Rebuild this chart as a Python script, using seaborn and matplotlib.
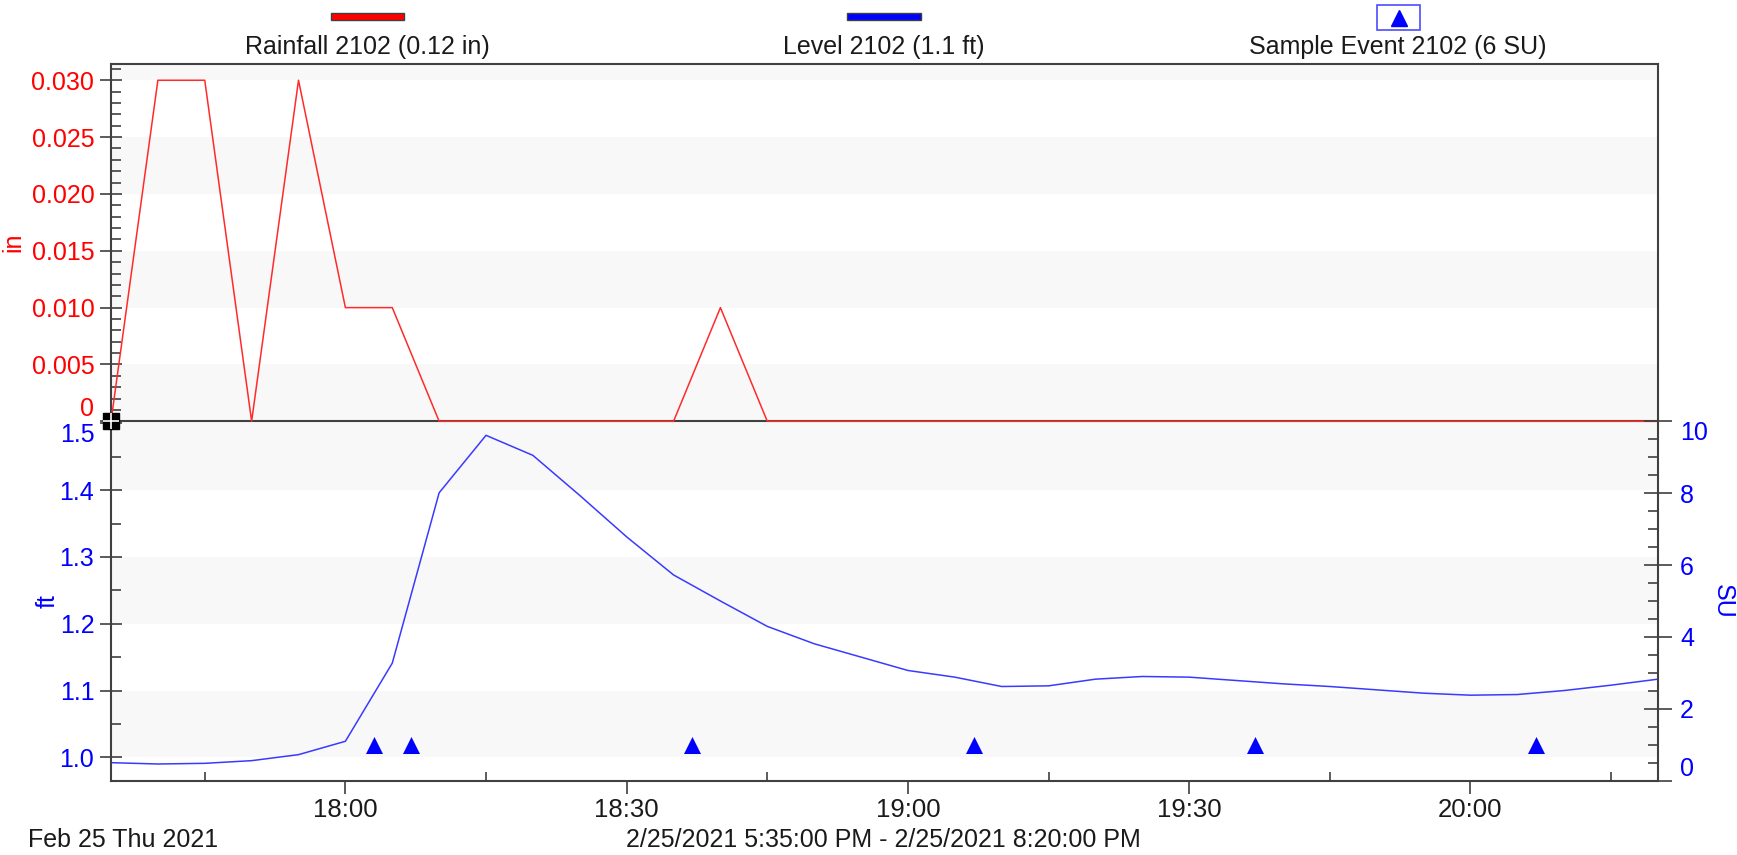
import pandas as pd
import seaborn as sns
import matplotlib.pyplot as plt
import matplotlib.dates as mdates
from matplotlib.patches import Rectangle
from matplotlib.lines import Line2D
from matplotlib.ticker import MultipleLocator

# 5 minute readings, 2/25/2021 5:35 PM - 8:20 PM
times = pd.date_range('2021-02-25 17:35', '2021-02-25 20:20', freq='5min')

rainfall_in = [0, 0.03, 0.03, 0, 0.03, 0.01, 0.01, 0, 0, 0,
               0, 0, 0, 0.01, 0, 0, 0, 0, 0, 0,
               0, 0, 0, 0, 0, 0, 0, 0, 0, 0,
               0, 0, 0, 0]

level_ft = [0.992, 0.990, 0.991, 0.995, 1.004, 1.024, 1.141, 1.396, 1.482, 1.452,
            1.392, 1.330, 1.273, 1.234, 1.196, 1.170, 1.150, 1.130, 1.120, 1.106,
            1.107, 1.117, 1.121, 1.120, 1.115, 1.110, 1.106, 1.101, 1.096, 1.093,
            1.094, 1.100, 1.108, 1.117]

event_times = pd.to_datetime(['2021-02-25 18:03', '2021-02-25 18:07', '2021-02-25 18:37',
                              '2021-02-25 19:07', '2021-02-25 19:37', '2021-02-25 20:07'])
event_su = [1, 1, 1, 1, 1, 1]

rain_ticks = [0, 0.005, 0.010, 0.015, 0.020, 0.025, 0.030]
rain_labels = ['0', '0.005', '0.010', '0.015', '0.020', '0.025', '0.030']
ft_ticks = [1.0, 1.1, 1.2, 1.3, 1.4, 1.5]
ft_labels = ['1.0', '1.1', '1.2', '1.3', '1.4', '1.5']
su_ticks = [0, 2, 4, 6, 8, 10]
su_labels = ['0', '2', '4', '6', '8', '10']

legend_labels = ['Rainfall 2102 (0.12 in)', 'Level 2102 (1.1 ft)', 'Sample Event 2102 (6 SU)']

RED = '#ff0000'
BLUE = '#0000ff'
SPINE = '#404040'
BAND = '#f8f8f8'
TXT = '#1a1a1a'
FS = 18      # legend / footer text
YFS = 18     # y tick labels
XFS = 18.5   # x tick labels

sns.set_style('ticks')
plt.rcParams['font.family'] = ['Liberation Sans', 'DejaVu Sans']

W, H = 1737, 855
fig = plt.figure(figsize=(W / 100, H / 100), dpi=100)


def box(l, t, r, b):
    return [l / W, 1 - b / H, (r - l) / W, (b - t) / H]


ax_bot = fig.add_axes(box(111, 421.3, 1658, 780.7))
ax_top = fig.add_axes(box(111, 64, 1658, 421.3), sharex=ax_bot)
ax_su = ax_bot.twinx()
ax_bot.patch.set_visible(False)

# alternating background bands
for lo, hi in [(0, 0.005), (0.010, 0.015), (0.020, 0.025), (0.030, 0.04)]:
    ax_top.axhspan(lo, hi, color=BAND, lw=0, zorder=0)
for lo, hi in [(1.0, 1.1), (1.2, 1.3), (1.4, 1.6)]:
    ax_bot.axhspan(lo, hi, color=BAND, lw=0, zorder=0)

# data
sns.lineplot(x=times, y=rainfall_in, ax=ax_top, color='#ff2a2a', linewidth=1.1, legend=False)
for ln in ax_top.lines:
    ln.set_clip_on(False)
    ln.set_zorder(3)
sns.lineplot(x=times, y=level_ft, ax=ax_bot, color='#3a3aff', linewidth=1.1, legend=False)
sns.scatterplot(x=event_times, y=event_su, ax=ax_su, marker='^', s=150, color=BLUE,
                linewidth=0, legend=False, zorder=4)

# cursor icon at the origin
ax_top.plot([times[0]], [0], marker='s', ms=11, color='black', clip_on=False, zorder=6)
ax_top.plot([times[0]], [0], marker='+', ms=11, mew=1.2, color='white', clip_on=False, zorder=7)

ax_bot.set_xlim(times[0], times[-1])
ax_top.set_ylim(0, 0.03143)
ax_bot.set_ylim(0.965, 1.503)
ax_su.set_ylim(0, 10)

# ticks
ax_bot.xaxis.set_major_locator(mdates.MinuteLocator(byminute=[0, 30]))
ax_bot.xaxis.set_minor_locator(mdates.MinuteLocator(byminute=[15, 45]))
ax_bot.xaxis.set_major_formatter(mdates.DateFormatter('%H:%M'))

ax_top.set_yticks(rain_ticks, labels=rain_labels)
ax_top.yaxis.set_minor_locator(MultipleLocator(0.001))
ax_bot.set_yticks(ft_ticks, labels=ft_labels)
ax_bot.yaxis.set_minor_locator(MultipleLocator(0.05))
ax_su.set_yticks(su_ticks, labels=su_labels)
ax_su.yaxis.set_minor_locator(MultipleLocator(0.5))

ax_top.tick_params(axis='x', which='both', bottom=False, labelbottom=False)
ax_top.tick_params(axis='y', which='major', direction='inout', length=16, width=1.2,
                   color=SPINE, labelcolor=RED, labelsize=YFS, pad=4)
ax_top.tick_params(axis='y', which='minor', direction='in', length=7.5, width=1.2, color=SPINE)
ax_bot.tick_params(axis='y', which='major', direction='inout', length=16, width=1.2,
                   color=SPINE, labelcolor=BLUE, labelsize=YFS, pad=4)
ax_bot.tick_params(axis='y', which='minor', direction='in', length=7.5, width=1.2, color=SPINE)
ax_bot.tick_params(axis='x', which='major', direction='out', length=9.5, width=1.2,
                   color=SPINE, labelcolor=TXT, labelsize=XFS, pad=3)
ax_bot.tick_params(axis='x', which='minor', direction='in', length=6.5, width=1.2, color=SPINE)
ax_su.tick_params(axis='y', which='major', direction='inout', length=20, width=1.2,
                  color=SPINE, labelcolor=BLUE, labelsize=YFS, pad=6)
ax_su.tick_params(axis='y', which='minor', direction='in', length=7.5, width=1.2, color=SPINE)

# keep edge labels inside their panel
ax_top.get_yticklabels()[0].set_va('bottom')
ax_bot.get_yticklabels()[-1].set_va('top')
ax_su.get_yticklabels()[0].set_va('bottom')
ax_su.get_yticklabels()[-1].set_va('top')

# spines
for ax in (ax_top, ax_bot, ax_su):
    for sp in ax.spines.values():
        sp.set_color(SPINE)
        sp.set_linewidth(1.5)
ax_bot.spines['top'].set_visible(False)
ax_bot.spines['right'].set_visible(False)
for side in ('top', 'left', 'bottom'):
    ax_su.spines[side].set_visible(False)

# axis labels
ax_top.set_xlabel('')
ax_bot.set_xlabel('')
ax_top.set_ylabel('in', color=RED, fontsize=YFS)
ax_top.yaxis.set_label_coords(-0.0556, 0.5)
ax_bot.set_ylabel('ft', color=BLUE, fontsize=YFS)
ax_bot.yaxis.set_label_coords(-0.0335, 0.5)
ax_su.set_ylabel('SU', color=BLUE, fontsize=YFS, rotation=270, va='bottom')
ax_su.yaxis.set_label_coords(1.034, 0.5)

# legend across the top
fig.add_artist(Rectangle((331 / W, 1 - 20 / H), 73 / W, 7 / H, transform=fig.transFigure,
                         fc=RED, ec=SPINE, lw=1))
fig.add_artist(Rectangle((847 / W, 1 - 20 / H), 74 / W, 7 / H, transform=fig.transFigure,
                         fc=BLUE, ec=SPINE, lw=1))
fig.add_artist(Rectangle((1377 / W, 1 - 30 / H), 43 / W, 24.5 / H, transform=fig.transFigure,
                         fc='white', ec='#4d4dff', lw=1.2))
fig.add_artist(Line2D([1398.5 / W], [1 - 18 / H], marker='^', ms=11, color=BLUE,
                      linestyle='none', transform=fig.transFigure))
for xc, lab in zip([367, 884, 1398], legend_labels):
    fig.text(xc / W, 1 - 47 / H, lab, ha='center', va='center', fontsize=FS, color=TXT)

# footer
fig.text(28 / W, 1 - 840 / H, 'Feb 25 Thu 2021', ha='left', va='center', fontsize=FS, color=TXT)
fig.text(883 / W, 1 - 840 / H, '2/25/2021 5:35:00 PM - 2/25/2021 8:20:00 PM',
         ha='center', va='center', fontsize=FS, color=TXT)

fig.savefig('out.png', dpi=100)
